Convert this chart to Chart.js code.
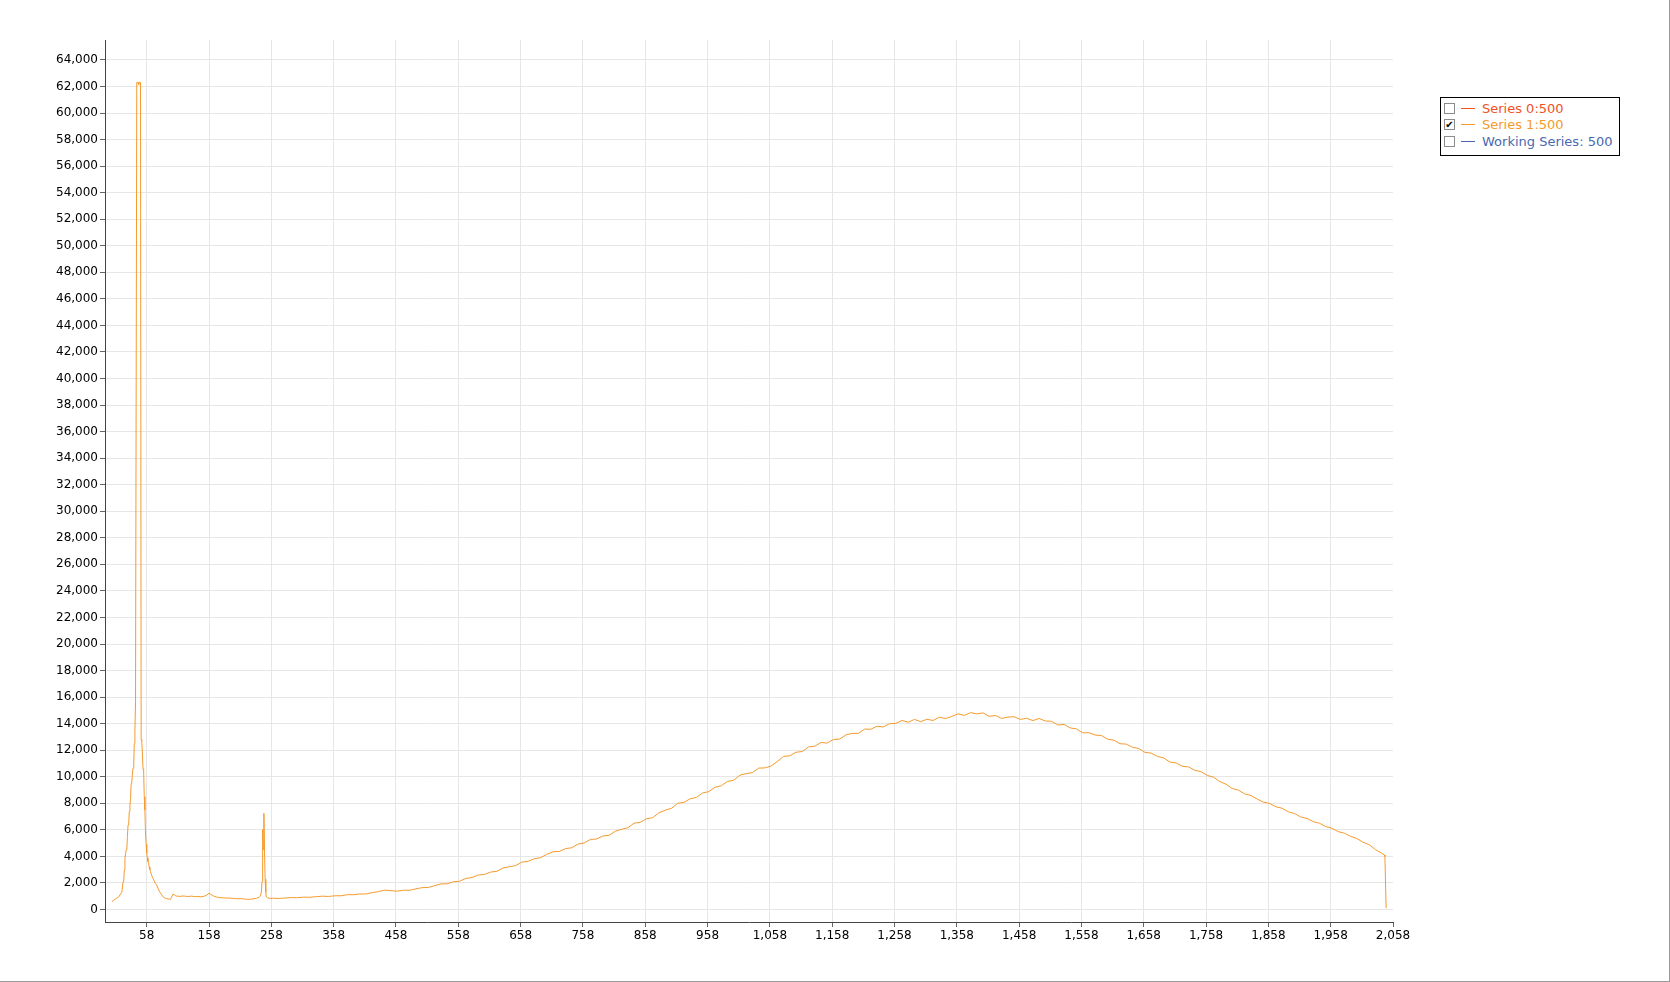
<!DOCTYPE html>
<html>
<head>
<meta charset="utf-8">
<title>Spectrum</title>
<script src="https://cdn.jsdelivr.net/npm/chart.js@4.4.1/dist/chart.umd.min.js"></script>
<style>
    html, body { margin: 0; padding: 0; background: #fff; }
    #frame {
        position: relative;
        width: 1670px;
        height: 982px;
        overflow: hidden;
        font-family: "DejaVu Sans", Verdana, sans-serif;
    }
    #frame::after {
        content: '';
        position: absolute;
        left: 0; top: 0; right: 0; bottom: 0;
        border-right: 1px solid #9a9a9a;
        border-bottom: 1px solid #9a9a9a;
        pointer-events: none;
    }
    #legend {
        position: absolute;
        left: 1440px;
        top: 97px;
        width: 178px;
        height: 55px;
        border: 1px solid #000;
        background: #fff;
        padding-top: 2px;
        box-sizing: content-box;
        font-size: 13px;
    }
    .legend-row {
        height: 16.5px;
        display: flex;
        align-items: center;
        cursor: pointer;
        user-select: none;
    }
    .legend-box {
        width: 9px;
        height: 9px;
        margin-left: 3px;
        border: 1px solid #8c8c8c;
        background: #fff;
        font-size: 10px;
        line-height: 9px;
        text-align: center;
        color: #000;
    }
    .legend-swatch {
        width: 14px;
        height: 1px;
        margin-left: 6px;
    }
    .legend-text {
        margin-left: 7px;
        white-space: nowrap;
    }
</style>
</head>
<body>
<div id="frame">
    <canvas id="spectrum-chart" width="1670" height="982"></canvas>
    <div id="legend"></div>
</div>
<script>
// Channels (x) and counts (y)
const channels = [
    2, 5, 9, 13, 16, 18, 20, 21, 22, 23, 24, 25, 26, 27, 28, 29, 30, 31, 32, 33,
    34, 35, 36, 37, 38, 39, 40, 42, 43, 44, 45, 46, 47, 48, 49, 50, 51, 52, 53, 54,
    55, 56, 57, 58, 59, 60, 61, 62, 63, 64, 66, 68, 70, 72, 74, 76, 78, 80, 82, 84,
    86, 88, 90, 92, 94, 96, 98, 100, 102, 104, 106, 108, 110, 114, 118,
    120, 125, 130, 135, 140, 145, 150, 154, 158, 161, 165, 170, 175, 180, 185, 190,
    195, 200, 205, 210, 215, 220, 225, 230, 234, 238, 240, 242, 243, 244, 245, 246,
    247, 248, 249, 250, 252, 256,
    260, 270, 280, 290, 300, 310, 320, 330, 340, 350, 360, 370, 380, 390, 400, 410,
    420, 430, 440, 450, 460, 470, 480, 490, 500, 510, 520, 530, 540, 550, 560, 570,
    580, 590, 600, 610, 620, 630, 640, 650, 660, 670, 680, 690, 700, 710, 720, 730,
    740, 750, 760, 770, 780, 790, 800, 810, 820, 830, 840, 850, 860, 870, 880, 890,
    900, 910, 920, 930, 940, 950, 960, 970, 980, 990, 1000, 1010, 1020, 1030, 1040, 1050,
    1060, 1070, 1080, 1090, 1100, 1110, 1120, 1130, 1140, 1150, 1160, 1170, 1180, 1190, 1200, 1210,
    1220, 1230, 1240, 1250, 1260, 1270, 1280, 1290, 1300, 1310, 1320, 1330, 1340, 1350, 1360, 1370,
    1380, 1390, 1400, 1410, 1420, 1430, 1440, 1450, 1460, 1470, 1480, 1490, 1500, 1510, 1520, 1530,
    1540, 1550, 1560, 1570, 1580, 1590, 1600, 1610, 1620, 1630, 1640, 1650, 1660, 1670, 1680, 1690,
    1700, 1710, 1720, 1730, 1740, 1750, 1760, 1770, 1780, 1790, 1800, 1810, 1820, 1830, 1840, 1850,
    1860, 1870, 1880, 1890, 1900, 1910, 1920, 1930, 1940, 1950, 1960, 1970, 1980, 1990, 2000, 2010,
    2020, 2030, 2040, 2044, 2045, 2046, 2047
];

const counts = [
    600, 700, 840, 950, 1170, 1300, 2100, 2150, 3000, 3860, 4200, 4480, 4500, 5500, 6370, 6450, 7400, 7870, 8300, 9500,
    9600, 10200, 10640, 10700, 12500, 13520, 15650, 62300, 62300, 62300, 62150, 62300, 62300, 62300, 12800, 12700, 11800, 10600, 10500, 8500,
    7500, 5760, 4900, 4250, 3900, 3600, 3500, 3200, 3000, 2850, 2550, 2350, 2150, 1950, 1850, 1600, 1400, 1250, 1100, 960,
    900, 850, 820, 800, 790, 760, 950, 1150, 1120, 1050, 1000, 1020, 980, 1010, 1020,
    1000, 980, 1010, 960, 990, 950, 1000, 1080, 1220, 1150, 1020, 940, 900, 880, 860, 870,
    840, 830, 810, 820, 790, 760, 780, 800, 850, 920, 1000, 1300, 2100, 6040, 4500, 7250,
    4350, 2270, 1300, 950, 880, 840,
    850, 835, 865, 900, 890, 935, 920, 970, 1005, 985, 1035, 1035, 1120, 1115, 1170, 1170,
    1270, 1350, 1460, 1420, 1380, 1455, 1450, 1560, 1645, 1660, 1800, 1930, 1940, 2090, 2130, 2340,
    2410, 2600, 2640, 2820, 2880, 3130, 3220, 3310, 3570, 3630, 3830, 3900, 4160, 4350, 4370, 4590,
    4650, 4930, 5010, 5280, 5310, 5540, 5590, 5900, 6040, 6160, 6500, 6570, 6840, 6920, 7290, 7480,
    7620, 8000, 8070, 8340, 8440, 8780, 8880, 9210, 9320, 9650, 9740, 10120, 10240, 10310, 10650, 10670,
    10810, 11150, 11540, 11580, 11850, 11900, 12250, 12300, 12580, 12540, 12810, 12840, 13150, 13270, 13270, 13590,
    13580, 13810, 13750, 14000, 14020, 14240, 14110, 14320, 14150, 14330, 14240, 14490, 14380, 14550, 14740, 14620,
    14830, 14740, 14810, 14550, 14620, 14390, 14500, 14520, 14320, 14410, 14230, 14390, 14200, 14180, 13900, 13940,
    13680, 13610, 13310, 13320, 13140, 13110, 12830, 12760, 12490, 12460, 12220, 12130, 11840, 11780, 11530, 11420,
    11100, 11040, 10790, 10740, 10490, 10380, 10100, 9970, 9640, 9440, 9120, 8990, 8710, 8590, 8320, 8090,
    7990, 7740, 7630, 7360, 7230, 6970, 6860, 6620, 6500, 6250, 6120, 5870, 5750, 5510, 5350, 5060,
    4880, 4510, 4240, 4120, 4000, 2000, 100
];

// Tick labels of both axes
const xTickValues = [58, 158, 258, 358, 458, 558, 658, 758, 858, 958, 1058, 1158, 1258, 1358, 1458, 1558, 1658, 1758, 1858, 1958, 2058];
const yTickValues = [0, 2000, 4000, 6000, 8000, 10000, 12000, 14000, 16000, 18000, 20000, 22000, 24000, 26000, 28000, 30000,
    32000, 34000, 36000, 38000, 40000, 42000, 44000, 46000, 48000, 50000, 52000, 54000, 56000, 58000, 60000, 62000, 64000];

// Legend entries: only "Series 1:500" is switched on
const seriesNames = ['Series 0:500', 'Series 1:500', 'Working Series: 500'];
const seriesColors = ['#f0521f', '#f59a2c', '#4a69b0'];
const seriesVisible = [false, true, false];

const tickFont = { family: '"DejaVu Sans", Verdana, sans-serif', size: 12 };
const formatNumber = v => Number(v).toLocaleString('en-US');

/**
 * Builds the small checkbox legend at the top right, bound to the chart datasets.
 */
function renderLegend(chart) {
    const container = document.getElementById('legend');
    container.innerHTML = '';

    chart.data.datasets.forEach((ds, i) => {
        const row = document.createElement('div');
        row.className = 'legend-row';
        const visible = chart.isDatasetVisible(i);
        row.innerHTML = `
            <span class="legend-box">${visible ? '&#10004;' : ''}</span>
            <span class="legend-swatch" style="background-color: ${ds.borderColor}"></span>
            <span class="legend-text" style="color: ${ds.borderColor}">${ds.label}</span>
        `;
        row.addEventListener('click', () => {
            chart.setDatasetVisibility(i, !chart.isDatasetVisible(i));
            chart.update();
            renderLegend(chart);
        });
        container.appendChild(row);
    });
}

function renderChart() {
    const ctx = document.getElementById('spectrum-chart');

    const datasets = seriesNames.map((name, i) => ({
        label: name,
        data: i === 1 ? channels.map((c, k) => ({ x: c, y: counts[k] })) : [],
        borderColor: seriesColors[i],
        backgroundColor: seriesColors[i],
        borderWidth: 1,
        pointRadius: 0,
        tension: 0,
        fill: false,
        hidden: !seriesVisible[i]
    }));

    const chart = new Chart(ctx, {
        type: 'line',
        data: { datasets },
        options: {
            responsive: false,
            animation: false,
            parsing: false,
            layout: { padding: { left: 0, top: 40, right: 277, bottom: 20 } },
            plugins: {
                legend: { display: false },
                tooltip: { enabled: false }
            },
            scales: {
                x: {
                    type: 'linear',
                    min: -9,
                    max: 2058,
                    afterBuildTicks: scale => { scale.ticks = xTickValues.map(v => ({ value: v })); },
                    afterFit: scale => { scale.height = 40; },
                    ticks: {
                        font: tickFont,
                        color: '#000',
                        padding: 2,
                        maxRotation: 0,
                        autoSkip: false,
                        callback: v => formatNumber(v)
                    },
                    grid: {
                        color: c => (c.tick && c.tick.value === 2058) ? 'rgba(0,0,0,0)' : '#e6e6e6',
                        tickColor: '#666',
                        tickLength: 5,
                        lineWidth: 1
                    },
                    border: { color: '#444', width: 1 }
                },
                y: {
                    type: 'linear',
                    min: -940,
                    max: 65500,
                    afterBuildTicks: scale => { scale.ticks = yTickValues.map(v => ({ value: v })); },
                    afterFit: scale => { scale.width = 105; },
                    ticks: {
                        font: tickFont,
                        color: '#000',
                        padding: 2,
                        autoSkip: false,
                        callback: v => formatNumber(v)
                    },
                    grid: {
                        color: '#e6e6e6',
                        tickColor: '#666',
                        tickLength: 5,
                        lineWidth: 1
                    },
                    border: { color: '#444', width: 1 }
                }
            }
        }
    });

    renderLegend(chart);
}

renderChart();
</script>
</body>
</html>
